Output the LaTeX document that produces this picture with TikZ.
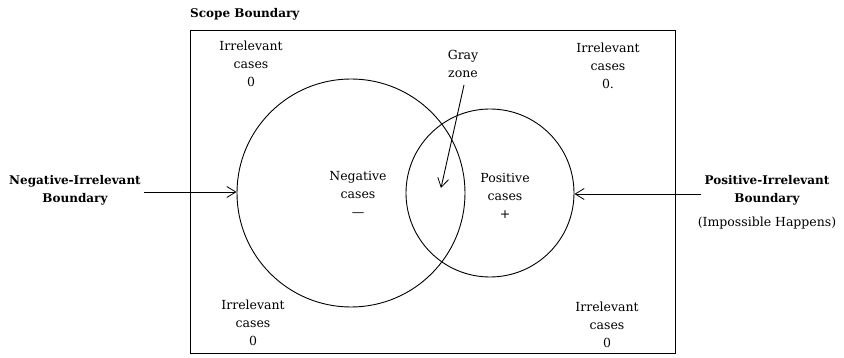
\documentclass[tikz,border=0pt]{standalone}
\usepackage{fontspec}
\setmainfont{DejaVu Serif}
\usetikzlibrary{arrows.meta}
\tikzset{
  lbl/.style={align=center, font=\fontsize{12.5}{18}\selectfont, inner sep=0pt},
  blbl/.style={align=center, font=\fontsize{12}{18}\selectfont\bfseries, inner sep=0pt},
  ln/.style={line width=0.9pt, black},
  arr/.style={ln, -{Straight Barb[length=9pt,width=11pt,line width=0.8pt]}},
}
\begin{document}
\begin{tikzpicture}[x=1pt,y=-1pt]
\useasboundingbox (0,0) rectangle (844,358);
% scope box
\node[draw, ln, line width=1.1pt, minimum width=485pt, minimum height=323pt, inner sep=0pt, anchor=north west] (box) at (190,30) {};
\node[blbl, anchor=west] (scope) at (190,14) {Scope Boundary};
% circles
\node[draw, ln, circle, minimum size=228pt, inner sep=0pt] (neg) at (351,193) {};
\node[draw, ln, circle, minimum size=168pt, inner sep=0pt] (pos) at (490,193) {};
% labels inside
\node[lbl] (negtxt) at (358,194) {Negative\\cases\\—};
\node[lbl] (postxt) at (505,196) {Positive\\cases\\+};
\node[lbl] (irtl) at (251,64) {Irrelevant\\cases\\0};
\node[lbl] (irtr) at (608,66) {Irrelevant\\cases\\0.};
\node[lbl] (irbl) at (253,323) {Irrelevant\\cases\\0};
\node[lbl] (irbr) at (607,325) {Irrelevant\\cases\\0};
% gray zone
\node[lbl] (gray) at (463,64) {Gray\\zone};
\coordinate (gz) at (441,188);
\draw[arr] (464,85) -- (gz);
% boundaries
\node[blbl] (negb) at (75,190) {Negative-Irrelevant\\Boundary};
\draw[arr] (negb.east |- 0,192) ++(3,0) -- (neg.west |- 0,192);
\node[blbl] (posb) at (767,190) {Positive-Irrelevant\\Boundary};
\node[lbl, anchor=north] (imp) at (767,217) {(Impossible Happens)};
\draw[arr] (posb.west |- 0,194) ++(-3,0) -- (pos.east |- 0,194);
\end{tikzpicture}
\end{document}
